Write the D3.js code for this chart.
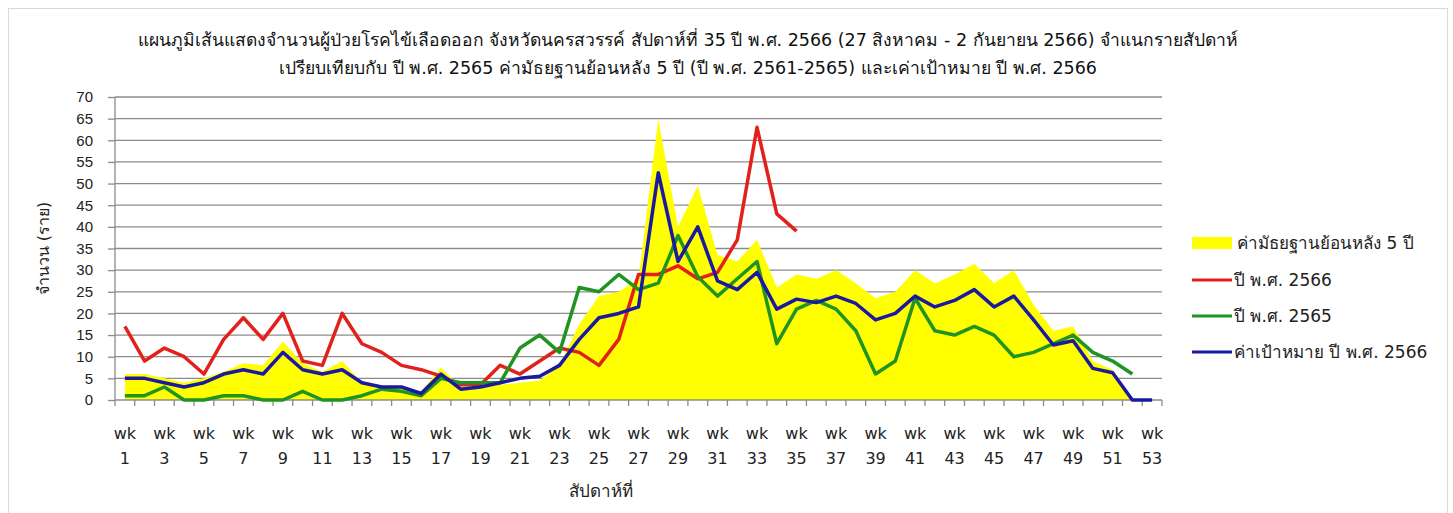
<!DOCTYPE html>
<meta charset="utf-8">
<style type="text/css">
  body {
    margin: 0;
    background: #fff;
    font-family: "DejaVu Sans", Tahoma, sans-serif;
  }
  .grid line {
    stroke: #8c8c8c;
    stroke-width: 1.3px;
  }
  .axis path, .axis line {
    stroke: #8c8c8c;
    stroke-width: 1.3px;
  }
  .axis text {
    font-size: 14px;
    fill: #222;
  }
</style>
<body>
</body>
<script src="https://d3js.org/d3.v7.min.js"></script>
<script>
  // week categories
  var weeks = ["1", "2", "3", "4", "5", "6", "7", "8", "9", "10",
    "11", "12", "13", "14", "15", "16", "17", "18", "19", "20",
    "21", "22", "23", "24", "25", "26", "27", "28", "29", "30",
    "31", "32", "33", "34", "35", "36", "37", "38", "39", "40",
    "41", "42", "43", "44", "45", "46", "47", "48", "49", "50",
    "51", "52", "53"];

  // median of previous 5 years (yellow area)
  var median5 = [6, 6, 5, 4, 5, 6.5, 8.5, 8, 13.5, 8.5,
    6.5, 9, 4, 3, 3, 2, 7.5, 3, 3, 3.5,
    4, 4.5, 8, 17.5, 24, 25, 28, 65, 40, 49.5,
    33.5, 32, 37, 26, 29, 28, 30, 27, 23.5, 25,
    30, 27, 29, 31.5, 27, 30, 22, 16, 17, 9,
    7, 0, 0];

  // year 2566 (red), up to week 35
  var y2566 = [17, 9, 12, 10, 6, 14, 19, 14, 20, 9,
    8, 20, 13, 11, 8, 7, 5.5, 3.5, 3.5, 8,
    6, 9, 12, 11, 8, 14, 29, 29, 31, 28,
    29.5, 37, 63, 43, 39];

  // year 2565 (green), up to week 52
  var y2565 = [1, 1, 3, 0, 0, 1, 1, 0, 0, 2,
    0, 0, 1, 2.5, 2, 1, 5, 4, 4, 4,
    12, 15, 11, 26, 25, 29, 25.5, 27, 38, 28.5,
    24, 28, 32, 13, 21, 23, 21, 16, 6, 9,
    23.5, 16, 15, 17, 15, 10, 11, 13, 15, 11,
    9, 6];

  // target 2566 (blue)
  var target = [5, 5, 4, 3, 4, 6, 7, 6, 11, 7,
    6, 7, 4, 3, 3, 1.5, 6, 2.5, 3, 4,
    5, 5.5, 8, 14, 19, 20, 21.5, 52.5, 32, 40,
    27.5, 25.5, 29.5, 21, 23.3, 22.5, 24, 22.3, 18.5, 20,
    24, 21.5, 23, 25.5, 21.5, 24, 18.5, 12.7, 13.7, 7.3,
    6.3, 0, 0];

  var yTicks = [0, 5, 10, 15, 20, 25, 30, 35, 40, 45, 50, 55, 60, 65, 70];

  var titleLines = [
    "แผนภูมิเส้นแสดงจำนวนผู้ป่วยโรคไข้เลือดออก จังหวัดนครสวรรค์ สัปดาห์ที่ 35 ปี พ.ศ. 2566 (27 สิงหาคม - 2 กันยายน 2566) จำแนกรายสัปดาห์",
    "เปรียบเทียบกับ  ปี พ.ศ. 2565 ค่ามัธยฐานย้อนหลัง 5 ปี (ปี พ.ศ. 2561-2565) และเค่าเป้าหมาย ปี พ.ศ. 2566"
  ];

  var series = [
    { name: "ปี พ.ศ. 2566", values: y2566, color: "#e3211c" },
    { name: "ปี พ.ศ. 2565", values: y2565, color: "#1f9420" },
    { name: "ค่าเป้าหมาย ปี พ.ศ. 2566", values: target, color: "#1a1aa0" }
  ];

  var W = 1453, H = 513;
  var pLeft = 115, pRight = 1162, pTop = 97, pBottom = 400;

  var svg = d3.select("body").append("svg")
    .attr("width", W)
    .attr("height", H);

  // outer chart border
  svg.append("rect")
    .attr("x", 8.5).attr("y", 8.5)
    .attr("width", W - 14).attr("height", H)
    .attr("fill", "none")
    .attr("stroke", "#d9d9d9");

  var x = d3.scaleBand().domain(weeks).range([pLeft, pRight]).padding(0);
  var y = d3.scaleLinear().domain([0, 70]).range([pBottom, pTop]);
  var cx = function(i) { return x(weeks[i]) + x.bandwidth() / 2; };

  // gridlines
  svg.append("g").attr("class", "grid")
    .selectAll("line")
    .data(yTicks.filter(function(d) { return d > 0; }))
    .enter().append("line")
    .attr("x1", pLeft).attr("x2", pRight)
    .attr("y1", function(d) { return y(d); })
    .attr("y2", function(d) { return y(d); });

  // yellow area (median)
  var area = d3.area()
    .x(function(d, i) { return cx(i); })
    .y0(y(0))
    .y1(function(d) { return y(d); });

  svg.append("path")
    .datum(median5)
    .attr("fill", "#ffff00")
    .attr("d", area);

  // y axis
  var yAxis = svg.append("g").attr("class", "axis")
    .attr("transform", "translate(" + pLeft + ",0)")
    .call(d3.axisLeft(y).tickValues(yTicks).tickSize(7).tickPadding(15));
  yAxis.select(".domain").attr("d", "M0," + y(70) + "V" + y(0));
  yAxis.selectAll("text").style("font-size", "15px");

  // x axis: ticks at category boundaries
  var xAxis = svg.append("g").attr("class", "axis")
    .attr("transform", "translate(0," + pBottom + ")");
  xAxis.append("line")
    .attr("x1", pLeft).attr("x2", pRight)
    .attr("y1", 0).attr("y2", 0);
  xAxis.selectAll(".tk")
    .data(weeks.concat(["end"]))
    .enter().append("line")
    .attr("class", "tk")
    .attr("x1", function(d, i) { return pLeft + i * x.bandwidth(); })
    .attr("x2", function(d, i) { return pLeft + i * x.bandwidth(); })
    .attr("y1", 0).attr("y2", 6);

  var lbl = xAxis.selectAll(".lbl")
    .data(weeks.filter(function(d, i) { return i % 2 === 0; }))
    .enter().append("text")
    .attr("class", "lbl")
    .attr("text-anchor", "middle")
    .style("font-size", "16px")
    .attr("fill", "#222");
  lbl.append("tspan")
    .attr("x", function(d) { return x(d) + x.bandwidth() / 2; })
    .attr("y", 39)
    .text("wk");
  lbl.append("tspan")
    .attr("x", function(d) { return x(d) + x.bandwidth() / 2; })
    .attr("y", 64)
    .text(function(d) { return d; });

  // lines
  var line = d3.line()
    .x(function(d, i) { return cx(i); })
    .y(function(d) { return y(d); });

  svg.selectAll(".series")
    .data(series)
    .enter().append("path")
    .attr("class", "series")
    .attr("fill", "none")
    .attr("stroke", function(d) { return d.color; })
    .attr("stroke-width", 3.5)
    .attr("stroke-linejoin", "round")
    .attr("d", function(d) { return line(d.values); });

  // titles
  svg.selectAll(".title")
    .data(titleLines)
    .enter().append("text")
    .attr("class", "title")
    .attr("x", 688)
    .attr("y", function(d, i) { return 46 + i * 28; })
    .attr("text-anchor", "middle")
    .style("font-size", "17.5px")
    .attr("fill", "#111")
    .text(function(d) { return d; });

  svg.append("text")
    .attr("transform", "translate(49," + ((pTop + pBottom) / 2) + ") rotate(-90)")
    .attr("text-anchor", "middle")
    .style("font-size", "16px")
    .attr("fill", "#222")
    .text("จำนวน (ราย)");

  svg.append("text")
    .attr("x", 601).attr("y", 497)
    .attr("text-anchor", "middle")
    .style("font-size", "17px")
    .attr("fill", "#222")
    .text("สัปดาห์ที่");

  // legend
  var leg = svg.append("g").attr("transform", "translate(1192,0)");
  leg.append("rect")
    .attr("x", 0).attr("y", 237)
    .attr("width", 40).attr("height", 12)
    .attr("fill", "#ffff00");
  leg.append("text")
    .attr("x", 45).attr("y", 249)
    .style("font-size", "17px").attr("fill", "#222")
    .text("ค่ามัธยฐานย้อนหลัง 5 ปี");
  var legY = [280, 316, 352];
  series.forEach(function(s, i) {
    leg.append("line")
      .attr("x1", 0).attr("x2", 40)
      .attr("y1", legY[i]).attr("y2", legY[i])
      .attr("stroke", s.color).attr("stroke-width", 3);
    leg.append("text")
      .attr("x", 42).attr("y", legY[i] + 6)
      .style("font-size", "17px").attr("fill", "#222")
      .text(s.name);
  });
</script>
